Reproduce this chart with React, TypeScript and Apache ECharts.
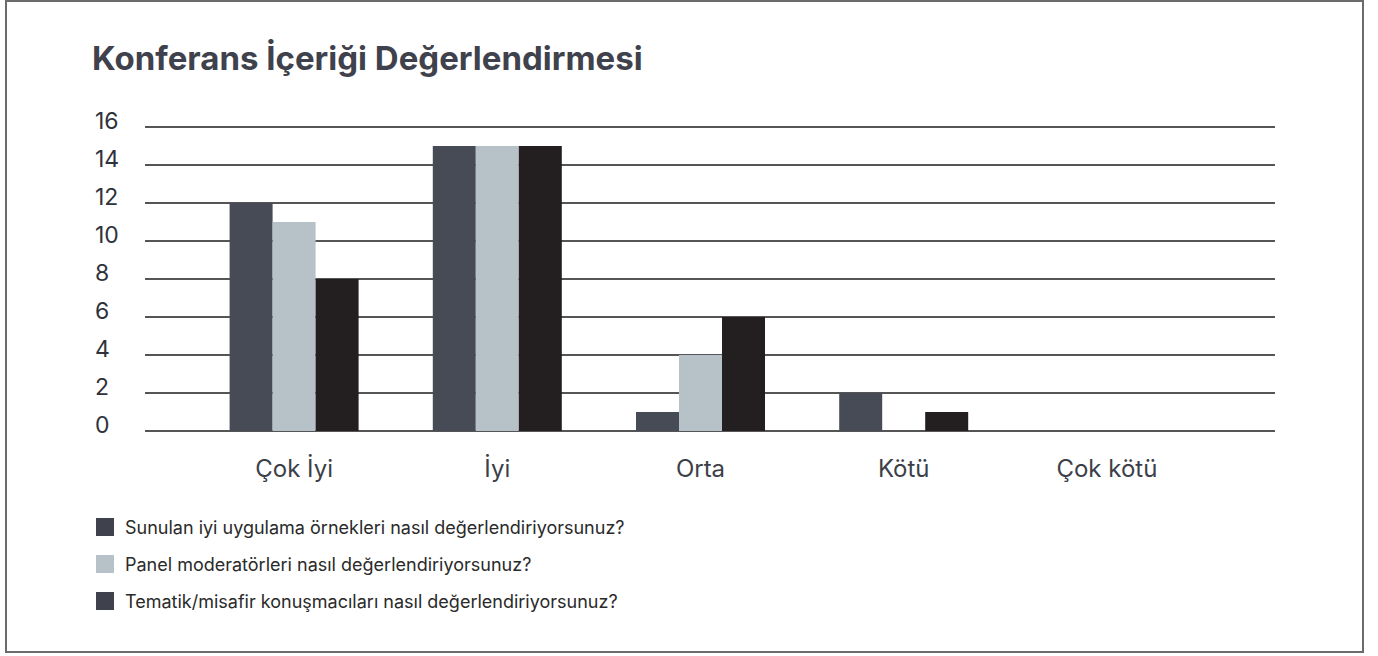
import React, { useEffect, useRef } from "react";
import * as echarts from "echarts";

const title = "Konferans İçeriği Değerlendirmesi";
const categories = ["Çok İyi", "İyi", "Orta", "Kötü", "Çok kötü"];
const seriesNames = [
  "Sunulan iyi uygulama örnekleri nasıl değerlendiriyorsunuz?",
  "Panel moderatörleri nasıl değerlendiriyorsunuz?",
  "Tematik/misafir konuşmacıları nasıl değerlendiriyorsunuz?",
];
const sunulanValues = [12, 15, 1, 2, 0];
const panelValues = [11, 15, 4, 0, 0];
const tematikValues = [8, 15, 6, 1, 0];
const yTicks = [0, 2, 4, 6, 8, 10, 12, 14, 16];

const barColors = ["#474b55", "#b6c1c8", "#231f20"];
const legendColors = ["#3f424d", "#b6c1c8", "#3f424d"];
const FONT = "Inter, 'Noto Sans', sans-serif";

export default function App() {
  const ref = useRef<HTMLDivElement>(null);
  useEffect(() => {
    const chart = echarts.init(ref.current!, null, { renderer: "svg" });
    const values = [sunulanValues, panelValues, tematikValues];
    chart.setOption({
      animation: false,
      backgroundColor: "#ffffff",
      textStyle: { fontFamily: FONT },
      title: {
        text: title,
        left: 87,
        top: 36,
        textStyle: { fontFamily: FONT, fontSize: 33, fontWeight: 700, color: "#3f424d" },
      },
      graphic: [
        {
          type: "rect",
          shape: { x: 6, y: 1, width: 1357, height: 651 },
          style: { fill: "none", stroke: "#6b6b6b", lineWidth: 2 },
        },
      ],
      legend: {
        orient: "vertical",
        left: 91,
        top: 513,
        itemWidth: 18,
        itemHeight: 18,
        itemGap: 19,
        icon: "rect",
        textStyle: {
          fontFamily: FONT,
          fontSize: 18,
          lineHeight: 18,
          color: "#2a2a2a",
          padding: [0, 0, 0, 6],
        },
        data: seriesNames.map((n, i) => ({ name: n, itemStyle: { color: legendColors[i] } })),
      },
      grid: [
        { left: 145, right: 103, top: 127, bottom: 225 },
        { left: 192.5, width: 1016, top: 127, bottom: 225 },
      ],
      xAxis: [
        { type: "category", gridIndex: 0, data: categories, show: false },
        {
          type: "category",
          gridIndex: 1,
          data: categories,
          axisLine: { show: false },
          axisTick: { show: false },
          axisLabel: { fontFamily: FONT, fontSize: 24, color: "#3c3f48", margin: 25 },
        },
      ],
      yAxis: [
        {
          type: "value",
          gridIndex: 0,
          min: yTicks[0],
          max: yTicks[yTicks.length - 1],
          interval: 2,
          axisLine: { show: false },
          axisTick: { show: false },
          axisLabel: {
            align: "left",
            margin: 50,
            formatter: "{v|{value}}",
            rich: {
              v: {
                fontFamily: FONT,
                fontSize: 23,
                color: "#2f323a",
                padding: [0, 0, 13, 0],
              },
            },
          },
          splitLine: { lineStyle: { color: "#555555", width: 2 } },
        },
        {
          type: "value",
          gridIndex: 1,
          min: yTicks[0],
          max: yTicks[yTicks.length - 1],
          interval: 2,
          show: false,
          splitLine: { show: false },
        },
      ],
      series: seriesNames.map((n, i) => ({
        name: n,
        type: "bar",
        xAxisIndex: 1,
        yAxisIndex: 1,
        data: values[i],
        barWidth: 43,
        barGap: "0%",
        itemStyle: { color: barColors[i] },
      })),
    });
    return () => chart.dispose();
  }, []);
  return (
    <div
      ref={ref}
      style={{ position: "fixed", left: 0, top: 0, width: 1378, height: 656 }}
    />
  );
}
